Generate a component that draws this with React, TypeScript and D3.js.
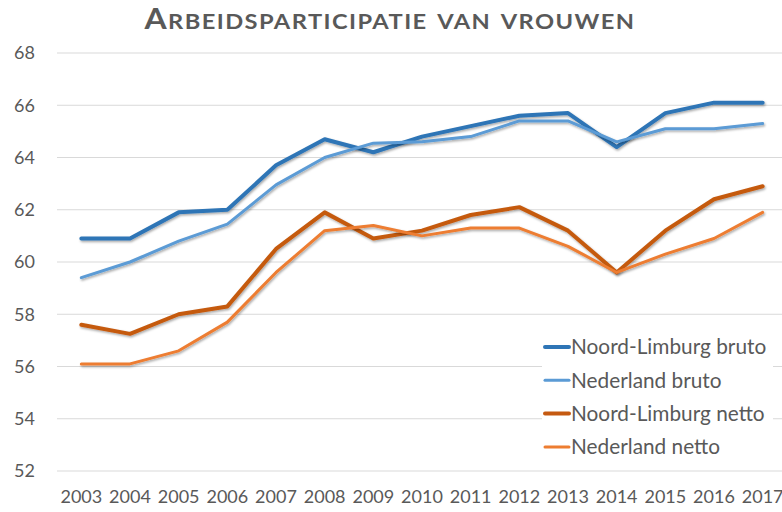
import * as d3 from 'd3'
import * as React from 'react'

//------------------------------data------------------------------
const years = [
  '2003', '2004', '2005', '2006', '2007', '2008', '2009', '2010',
  '2011', '2012', '2013', '2014', '2015', '2016', '2017'
]
const limburgBruto = [60.9, 60.9, 61.9, 62.0, 63.7, 64.7, 64.2, 64.8, 65.2, 65.6, 65.7, 64.4, 65.7, 66.1, 66.1]
const nederlandBruto = [59.4, 60.0, 60.8, 61.45, 62.95, 64.0, 64.55, 64.6, 64.8, 65.4, 65.4, 64.6, 65.1, 65.1, 65.3]
const limburgNetto = [57.6, 57.25, 58.0, 58.3, 60.5, 61.9, 60.9, 61.2, 61.8, 62.1, 61.2, 59.6, 61.2, 62.4, 62.9]
const nederlandNetto = [56.1, 56.1, 56.6, 57.7, 59.6, 61.2, 61.4, 61.0, 61.3, 61.3, 60.6, 59.6, 60.3, 60.9, 61.9]
const yTicks = [52, 54, 56, 58, 60, 62, 64, 66, 68]

const seriesNames = ['Noord-Limburg bruto', 'Nederland bruto', 'Noord-Limburg netto', 'Nederland netto']
const seriesValues = [limburgBruto, nederlandBruto, limburgNetto, nederlandNetto]
const seriesColors = ['#2e75b6', '#5b9bd5', '#c55a11', '#ed7d31']
const seriesWidths = [4, 3, 4, 3]

const WIDTH = 782
const HEIGHT = 512
const FONT = 'Lato, "Open Sans", sans-serif'
const TEXT = '#595959'

//------------------------------Component------------------------------
export default function App() {
  const x = d3.scaleBand<string>().domain(years).range([57, 787])
  const cx = (yr: string) => (x(yr) ?? 0) + x.bandwidth() / 2
  const y = d3.scaleLinear().domain([52, 68]).range([471, 53])
  const line = d3
    .line<number>()
    .x((_, i) => cx(years[i]))
    .y(d => y(d))

  const legendX = 545
  const legendY = 347
  const legendStep = 33.3

  return (
    <svg
      width={WIDTH}
      height={HEIGHT}
      style={{ position: 'absolute', left: 0, top: 0, background: '#fff' }}
      fontFamily={FONT}
    >
      <defs>
        <filter id="shadow" x="-5%" y="-10%" width="110%" height="130%">
          <feDropShadow dx="1" dy="1.5" stdDeviation="1" floodColor="#000" floodOpacity="0.35" />
        </filter>
      </defs>

      {/* title, small caps drawn by hand, slightly widened */}
      <g transform="translate(390,28.5) scale(1.1,1)">
        <text
          x={0}
          y={0}
          textAnchor="middle"
          fill={TEXT}
          fontWeight="bold"
          letterSpacing={1.3}
          wordSpacing={3}
        >
          <tspan fontSize={29}>A</tspan>
          <tspan fontSize={21.5}>RBEIDSPARTICIPATIE VAN VROUWEN</tspan>
        </text>
      </g>

      {/* grid + y labels */}
      {yTicks.map(t => (
        <g key={t}>
          <line x1={57} x2={WIDTH} y1={y(t)} y2={y(t)} stroke="#d9d9d9" strokeWidth={1} />
          <text x={35} y={y(t)} dy="0.35em" textAnchor="end" fill={TEXT} fontSize={18}>
            {t}
          </text>
        </g>
      ))}

      {/* x labels */}
      {years.map(yr => (
        <text key={yr} x={cx(yr)} y={503} textAnchor="middle" fill={TEXT} fontSize={18}>
          {yr}
        </text>
      ))}

      {/* lines */}
      {seriesValues.map((vals, i) => (
        <path
          key={seriesNames[i]}
          d={line(vals) ?? ''}
          fill="none"
          stroke={seriesColors[i]}
          strokeWidth={seriesWidths[i]}
          strokeLinejoin="round"
          strokeLinecap="round"
          filter="url(#shadow)"
        />
      ))}

      {/* legend */}
      <rect x={542} y={328} width={231} height={134} fill="#fff" />
      {seriesNames.map((name, i) => (
        <g key={name} transform={`translate(${legendX},${legendY + i * legendStep})`}>
          <line x1={0} x2={24} y1={0} y2={0} stroke={seriesColors[i]} strokeWidth={seriesWidths[i]} strokeLinecap="round" />
          <text x={26} y={0} dy="0.35em" fill={TEXT} fontSize={20.8}>
            {name}
          </text>
        </g>
      ))}
    </svg>
  )
}
